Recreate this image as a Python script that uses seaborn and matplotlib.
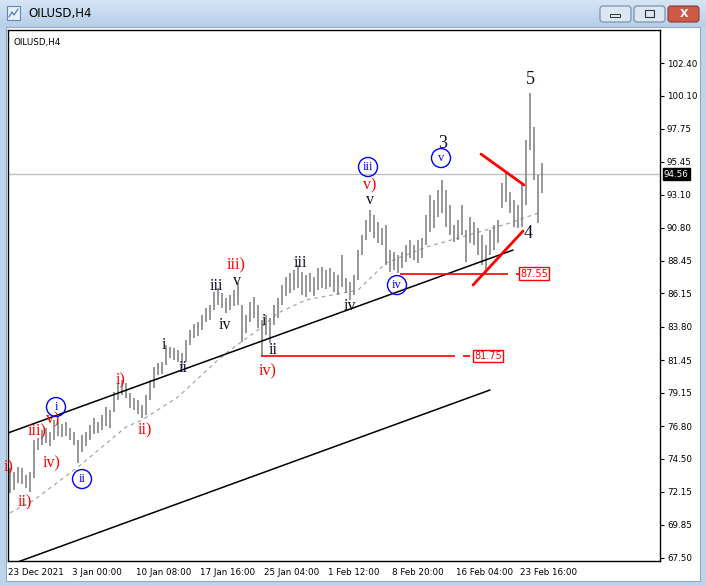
import numpy as np
import pandas as pd
import seaborn as sns
import matplotlib.pyplot as plt
from matplotlib.patches import Rectangle, FancyBboxPatch, Polygon
from matplotlib.transforms import blended_transform_factory

# ---- data (H4 bars, high / low) ----
highs = [73.84, 73.56, 73.91, 73.84, 73.35, 73.56, 75.81, 75.96, 76.52, 76.66,
         76.38, 77.23, 77.08, 76.94, 77.08, 76.66, 76.38, 75.81, 76.17, 76.38,
         76.87, 77.37, 77.08, 77.58, 78.14, 77.93, 79.20, 79.83, 80.05, 79.83,
         79.13, 78.78, 78.64, 78.28, 78.99, 80.05, 80.96, 81.24, 81.31, 82.51,
         82.37, 82.30, 82.16, 81.95, 82.87, 83.57, 83.99, 84.14, 84.63, 85.12,
         85.33, 86.25, 86.53, 86.18, 85.83, 86.04, 86.39, 86.89, 85.33, 84.63,
         85.55, 85.90, 85.33, 84.28, 84.63, 84.42, 85.33, 85.83, 86.75, 87.31,
         87.59, 87.80, 88.16, 87.66, 87.45, 87.59, 87.31, 87.94, 88.01, 87.80,
         87.94, 87.66, 87.45, 88.86, 87.24, 86.96, 87.45, 89.21, 90.27, 91.33,
         92.03, 91.68, 91.19, 90.76, 90.98, 89.21, 89.07, 88.86, 89.07, 89.57,
         89.92, 89.57, 89.92, 90.06, 91.68, 93.09, 92.74, 93.44, 94.15, 93.44,
         92.39, 90.98, 91.33, 92.39, 90.62, 91.54, 91.19, 90.76, 90.27, 89.57,
         90.62, 90.98, 91.33, 93.94, 94.71, 93.30, 92.74, 92.39, 93.80, 96.97,
         100.28, 97.89, 94.50, 95.35]
lows = [72.08, 72.29, 72.78, 72.71, 72.43, 72.15, 73.13, 75.11, 75.46, 75.60,
        75.39, 75.81, 76.10, 76.03, 76.10, 75.81, 75.46, 74.19, 74.97, 75.39,
        75.81, 76.24, 76.31, 76.52, 76.80, 76.66, 77.79, 78.64, 78.99, 78.78,
        78.07, 77.93, 77.65, 77.37, 77.58, 78.64, 79.48, 80.40, 80.47, 81.10,
        81.60, 81.46, 81.31, 80.89, 81.31, 82.51, 83.01, 83.15, 83.57, 84.14,
        84.28, 84.98, 85.33, 85.12, 84.77, 84.98, 85.26, 85.33, 82.73, 83.36,
        84.14, 84.42, 83.71, 81.75, 83.22, 82.65, 83.92, 84.42, 85.33, 85.97,
        86.18, 86.39, 86.53, 86.04, 85.90, 86.25, 85.97, 86.39, 86.53, 86.46,
        86.60, 86.25, 86.04, 86.60, 86.18, 85.69, 86.04, 87.10, 88.86, 89.92,
        90.48, 90.06, 89.71, 89.57, 88.16, 87.66, 87.80, 87.59, 87.94, 88.37,
        88.65, 88.51, 88.30, 88.65, 89.57, 90.48, 90.76, 91.54, 91.82, 90.84,
        90.27, 89.78, 89.92, 90.27, 88.37, 89.71, 89.57, 88.86, 88.16, 87.55,
        88.86, 89.21, 89.71, 92.18, 92.60, 91.82, 90.84, 90.76, 90.84, 92.39,
        96.27, 94.15, 91.12, 93.23]
last_price = 94.56

# dashed moving average (bar index, value)
ma_idx = [0, 6, 17, 29, 33, 42, 52, 55, 62, 67, 74, 87, 94, 104, 113, 125, 132]
ma_val = [70.67, 71.58, 73.91, 76.73, 77.22, 78.85, 81.46, 82.16, 83.57, 84.77,
          85.69, 86.39, 88.30, 89.42, 90.13, 91.12, 91.82]

# channel / wedge lines (bar index, price)
chan_up_x, chan_up_y = [-0.5, 125.75], [76.31, 89.21]
chan_lo_x, chan_lo_y = [-0.5, 120.0], [66.96, 79.34]
wedge_top_x, wedge_top_y = [117.75, 128.5], [95.98, 93.80]
wedge_bot_x, wedge_bot_y = [115.75, 128.25], [86.74, 90.55]

levels = [81.75, 87.55]
level_from = [62.75, 97.5]
level_to = [111.25, 124.5]
level_tag = [119.5, 131.0]

date_labels = ["23 Dec 2021", "3 Jan 00:00", "10 Jan 08:00", "17 Jan 16:00",
               "25 Jan 04:00", "1 Feb 12:00", "8 Feb 20:00", "16 Feb 04:00",
               "23 Feb 16:00"]
price_ticks = [102.40, 100.10, 97.75, 95.45, 93.10, 90.80, 88.45, 86.15, 83.80,
               81.45, 79.15, 76.80, 74.50, 72.15, 69.85, 67.50]

# wave counts: text, bar index, price, colour
waves = [("5", 130, 101.25, "k"), ("3", 108.25, 96.76, "k"), ("4", 129.5, 90.41, "k"),
         ("v)", 90, 93.80, "r"), ("v", 90, 92.74, "k"), ("iv", 85, 85.25, "k"),
         ("iii", 72.5, 88.30, "k"), ("iii)", 56.5, 88.10, "r"), ("v", 56.75, 87.00, "k"),
         ("iii", 51.5, 86.67, "k"), ("iv", 53.75, 83.92, "k"), ("i", 63.5, 84.20, "k"),
         ("ii", 65.75, 82.16, "k"), ("iv)", 64.5, 80.68, "r"), ("i", 38.5, 82.51, "k"),
         ("ii", 43.25, 80.90, "k"), ("i)", 27.75, 80.04, "r"), ("ii)", 33.75, 76.52, "r"),
         ("v)", 10.75, 77.25, "r"), ("iii)", 6.75, 76.45, "r"), ("iv)", 10.5, 74.19, "r"),
         ("i)", -0.3, 73.91, "r"), ("ii)", 3.75, 71.44, "r")]
circled = [("iii", 89.5, 95.07), ("v", 107.75, 95.70), ("iv", 96.75, 86.74),
           ("i", 11.5, 78.14), ("ii", 18, 73.06)]

sns.set_style("white")
plt.rcParams['font.family'] = ['DejaVu Sans']

W, H = 706, 586
fig = plt.figure(figsize=(W / 100, H / 100), dpi=100)
fig.patch.set_facecolor('#bcd4ec')

# window chrome drawn in pixel coordinates
bg = fig.add_axes([0, 0, 1, 1])
bg.set_xlim(0, W)
bg.set_ylim(H, 0)
bg.axis('off')
grad = np.linspace(0, 1, 30).reshape(-1, 1)
bg.imshow(grad, extent=[0, W, 27, 0], aspect='auto',
          cmap=sns.blend_palette(['#d6e5f5', '#b7cfe9'], as_cmap=True))
bg.add_patch(Rectangle((6, 27), 694, 554, fc='white', ec='#8ea8c6', lw=0.8))
bg.text(28, 14, "OILUSD,H4", fontsize=8.5, va='center', ha='left', color='black')
bg.add_patch(Rectangle((7, 6), 13, 14, fc='#e8f0fa', ec='#5b86c0', lw=0.8))
bg.plot([9, 12, 14, 18], [17, 12, 15, 9], color='#3b6fb6', lw=0.8)
for x0, fc, ec in [(600, '#dce7f4', '#7289a8'), (634, '#dce7f4', '#7289a8'),
                   (668, '#cd5a47', '#8b3a30')]:
    bg.add_patch(FancyBboxPatch((x0, 6), 31, 16, boxstyle='round,pad=0,rounding_size=3',
                                fc=fc, ec=ec, lw=0.8))
bg.add_patch(Rectangle((610, 14), 10, 3, fc='#dce7f4', ec='#333333', lw=0.7))
bg.add_patch(Rectangle((645, 10), 9, 7, fc='#dce7f4', ec='#333333', lw=0.8))
bg.text(684, 14, "X", color='white', fontsize=8, fontweight='bold', ha='center', va='center')

ax = fig.add_axes([8 / W, 1 - 561 / H, (660 - 8) / W, (561 - 30) / H])
ax.set_facecolor('white')
idx = np.arange(len(highs))

bars = pd.DataFrame({"i": idx, "high": highs, "low": lows})
ax.vlines(bars["i"], bars["low"], bars["high"], color='#7a7a7a', lw=1.1, zorder=2)

ma = pd.DataFrame({"i": ma_idx, "v": ma_val})
sns.lineplot(data=ma, x="i", y="v", ax=ax, color='#a8a8a8', lw=0.9,
             linestyle=(0, (3, 3)), zorder=1)

ax.axhline(last_price, color='#c0c0c0', lw=1, zorder=1)

sns.lineplot(x=chan_up_x, y=chan_up_y, ax=ax, color='black', lw=1.1, zorder=3)
sns.lineplot(x=chan_lo_x, y=chan_lo_y, ax=ax, color='black', lw=1.1, zorder=3)
sns.lineplot(x=wedge_top_x, y=wedge_top_y, ax=ax, color='#ff0000', lw=2, zorder=4)
sns.lineplot(x=wedge_bot_x, y=wedge_bot_y, ax=ax, color='#ff0000', lw=2, zorder=4)

for lv, a, b, t in zip(levels, level_from, level_to, level_tag):
    ax.hlines(lv, a, b, color='#ff0000', lw=1.2, zorder=3)
    ax.hlines(lv, b + 2, b + 3.8, color='#ff0000', lw=1.2, zorder=3)
    ax.text(t, lv, f"{lv:.2f}", color='#ff0000', fontsize=7, ha='center', va='center',
            bbox=dict(boxstyle='square,pad=0.12', fc='white', ec='#ff0000', lw=1), zorder=5)

for txt, x, y, c in waves:
    col = '#ff0000' if c == 'r' else '#0d0d2b'
    size = 13 if txt in ("5", "3", "4") else 11.5
    ax.text(x, y, txt, color=col, fontsize=size, family='Liberation Serif',
            ha='center', va='center', zorder=6)

for txt, x, y in circled:
    ax.text(x, y, txt, color='#0000ff', fontsize=9, family='Liberation Serif',
            ha='center', va='center', zorder=6,
            bbox=dict(boxstyle='circle,pad=0.28', fc='none', ec='#0000ff', lw=1))

ax.set_xlim(-0.5, 162.5)
ax.set_ylim(67.28, 104.73)
ax.set_xlabel("")
ax.set_ylabel("")

ax.set_xticks([-0.5 + 16 * k for k in range(len(date_labels))])
ax.set_xticklabels(date_labels, ha='left')
ax.yaxis.tick_right()
ax.set_yticks(price_ticks)
ax.set_yticklabels([f"{p:.2f}" for p in price_ticks])
ax.tick_params(axis='both', labelsize=6.3, colors='black', length=3, width=0.8,
               direction='out', pad=2)
for s in ax.spines.values():
    s.set_color('black')
    s.set_linewidth(1)
ax.grid(False)

tr = blended_transform_factory(ax.transAxes, ax.transData)
ax.text(1.006, last_price, f"{last_price:.2f}", transform=tr, color='white',
        fontsize=6.3, ha='left', va='center', zorder=7, clip_on=False,
        bbox=dict(boxstyle='square,pad=0.15', fc='black', ec='black'))

ax.text(0.008, 0.985, "OILUSD,H4", transform=ax.transAxes, fontsize=6.3,
        ha='left', va='top', color='black')
bg.add_patch(Polygon([[537, 31], [545, 31], [541, 36]], closed=True, fc='#a0a0a0', ec='none'))
bg.set_zorder(-1)

fig.savefig("out.png", dpi=100, facecolor=fig.get_facecolor())
